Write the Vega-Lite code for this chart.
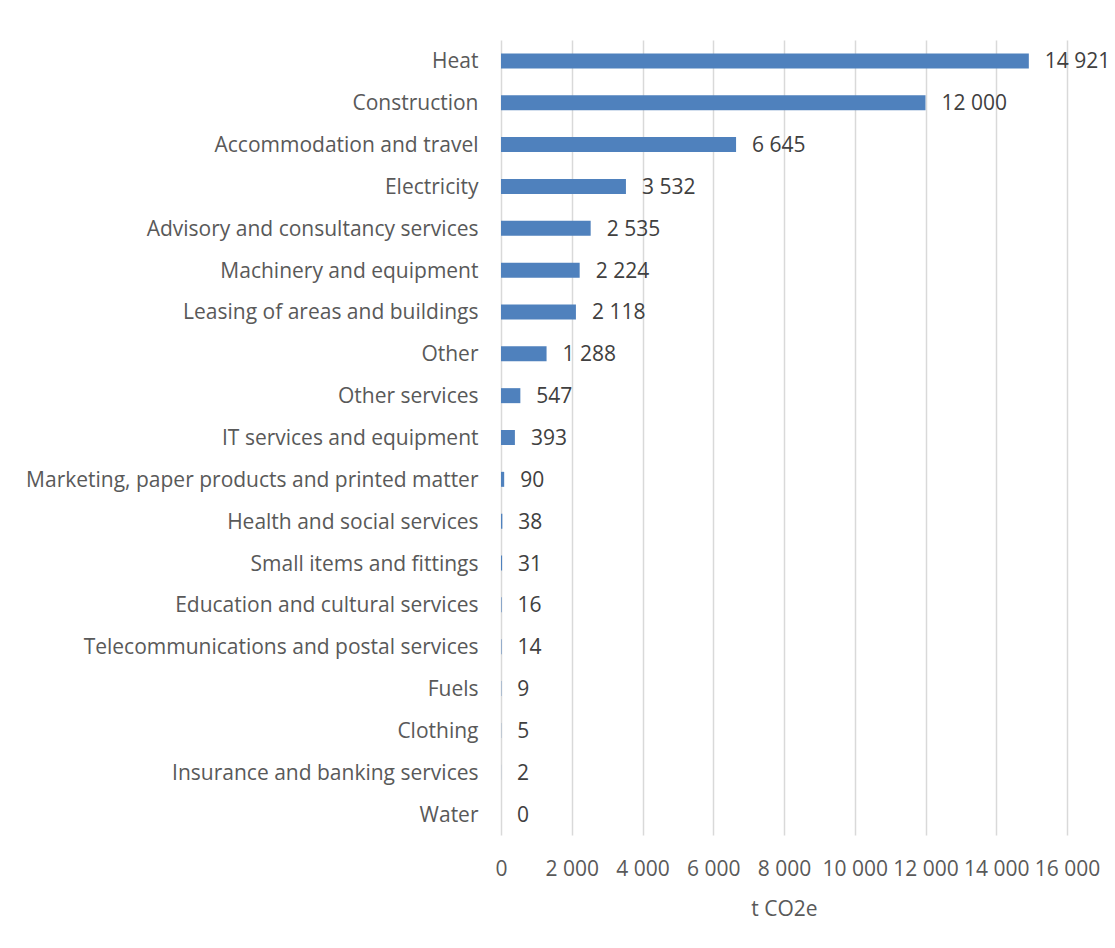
{
  "$schema": "https://vega.github.io/schema/vega-lite/v6.json",
  "autosize": "none",
  "width": 566,
  "height": 795,
  "padding": {"left": 501, "top": 40, "right": 48, "bottom": 113},
  "background": "white",
  "config": {
    "locale": {"number": {"decimal": ",", "thousands": " ", "grouping": [3], "currency": ["", ""]}},
    "view": {"stroke": null},
    "font": "Open Sans",
    "axis": {"labelFont": "Open Sans", "titleFont": "Open Sans", "labelFontSize": 21, "titleFontSize": 21, "labelColor": "#595959", "titleColor": "#595959", "titleFontWeight": "normal"}
  },
  "data": {
    "values": [
      {"category": "Heat", "value": 14921},
      {"category": "Construction", "value": 12000},
      {"category": "Accommodation and travel", "value": 6645},
      {"category": "Electricity", "value": 3532},
      {"category": "Advisory and consultancy services", "value": 2535},
      {"category": "Machinery and equipment", "value": 2224},
      {"category": "Leasing of areas and buildings", "value": 2118},
      {"category": "Other", "value": 1288},
      {"category": "Other services", "value": 547},
      {"category": "IT services and equipment", "value": 393},
      {"category": "Marketing, paper products and printed matter", "value": 90},
      {"category": "Health and social services", "value": 38},
      {"category": "Small items and fittings", "value": 31},
      {"category": "Education and cultural services", "value": 16},
      {"category": "Telecommunications and postal services", "value": 14},
      {"category": "Fuels", "value": 9},
      {"category": "Clothing", "value": 5},
      {"category": "Insurance and banking services", "value": 2},
      {"category": "Water", "value": 0}
    ]
  },
  "encoding": {
    "y": {
      "field": "category", "type": "nominal", "sort": null,
      "scale": {"paddingInner": 0, "paddingOuter": 0},
      "axis": {"title": null, "domain": false, "ticks": false, "labelPadding": 23, "grid": false, "labelLimit": 0, "labelOffset": 1.5}
    },
    "x": {
      "field": "value", "type": "quantitative",
      "scale": {"domain": [0, 16000], "nice": false},
      "axis": {"title": "t CO2e", "values": [0, 2000, 4000, 6000, 8000, 10000, 12000, 14000, 16000], "format": ",d", "domain": false, "ticks": false, "grid": true, "gridColor": "#d9d9d9", "gridWidth": 1.5, "labelPadding": 23, "titlePadding": 19, "labelOverlap": false, "labelFlush": false}
    }
  },
  "layer": [
    {"mark": {"type": "bar", "size": 15, "color": "#4f81bd"}},
    {"mark": {"type": "text", "align": "left", "baseline": "middle", "dx": 16, "dy": 1.5, "fontSize": 21, "font": "Open Sans", "color": "#404040"},
     "encoding": {"text": {"field": "value", "type": "quantitative", "format": ",d"}}}
  ]
}
